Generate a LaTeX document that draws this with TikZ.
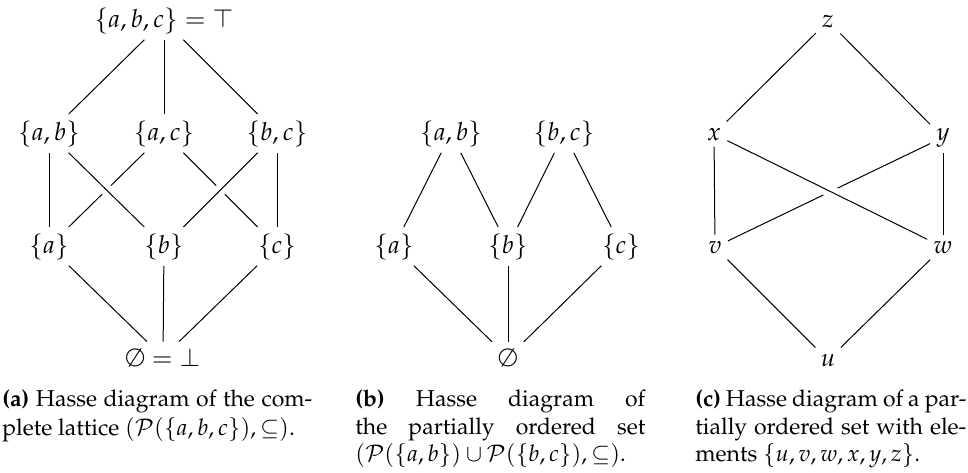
\documentclass[tikz,border=0pt]{standalone}
\usepackage[T1]{fontenc}
\usepackage{mathpazo}
\usetikzlibrary{calc}
\tikzset{
  el/.style={anchor=base, inner sep=3pt, font=\fontsize{12.5}{15}\selectfont},
  edge/.style={line width=0.5pt},
  over/.style={line width=0.5pt, preaction={draw=white, line width=6pt}},
  capline/.style={anchor=base west, inner sep=0pt, font=\fontsize{11.5}{13.5}\selectfont},
}
\begin{document}
\begin{tikzpicture}[x=0.5pt, y=-0.5pt]
\useasboundingbox (0,0) rectangle (968,472);
% (a)
\node[el] (atop) at (164,27) {$\{a,b,c\} = \top$};
\node[el] (aab) at (49,140) {$\{a,b\}$};
\node[el] (aac) at (164,140) {$\{a,c\}$};
\node[el] (abc) at (277,140) {$\{b,c\}$};
\node[el] (aa) at (49,253) {$\{a\}$};
\node[el] (ab) at (164,253) {$\{b\}$};
\node[el] (ac) at (277,253) {$\{c\}$};
\node[el] (abot) at (163,366) {$\emptyset = \bot$};
\draw[edge] (aac) -- (aa);
\draw[edge] (aac) -- (ac);
\draw[over] (aab) -- (ab);
\draw[over] (abc) -- (ab);
\draw[edge] (atop) -- (aab);
\draw[edge] (atop) -- (aac);
\draw[edge] (atop) -- (abc);
\draw[edge] (aab) -- (aa);
\draw[edge] (abc) -- (ac);
\draw[edge] (aa) -- (abot);
\draw[edge] (ab) -- (abot);
\draw[edge] (ac) -- (abot);
% (b)
\node[el] (bab) at (451,140) {$\{a,b\}$};
\node[el] (bbc) at (564,140) {$\{b,c\}$};
\node[el] (ba) at (394,253) {$\{a\}$};
\node[el] (bb) at (508,253) {$\{b\}$};
\node[el] (bc) at (621,253) {$\{c\}$};
\node[el] (bbot) at (508,366) {$\emptyset$};
\draw[edge] (bab) -- (ba);
\draw[edge] (bab) -- (bb);
\draw[edge] (bbc) -- (bb);
\draw[edge] (bbc) -- (bc);
\draw[edge] (ba) -- (bbot);
\draw[edge] (bb) -- (bbot);
\draw[edge] (bc) -- (bbot);
% (c)
\node[el] (cz) at (828,27) {$z$};
\node[el] (cx) at (714,140) {$x$};
\node[el] (cy) at (943,140) {$y$};
\node[el] (cv) at (715,253) {$v$};
\node[el] (cw) at (943,253) {$w$};
\node[el] (cu) at (828,366) {$u$};
\draw[edge] (cy) -- (cv);
\draw[over] (cx) -- (cw);
\draw[edge] (cz) -- (cx);
\draw[edge] (cz) -- (cy);
\draw[edge] (cx) -- (cv);
\draw[edge] (cy) -- (cw);
\draw[edge] (cv) -- (cu);
\draw[edge] (cw) -- (cu);
% captions
\node[capline] (capa1) at (2,406) {\makebox[155pt][s]{\textbf{(a)} Hasse diagram of the com-}};
\node[capline] (capa2) at (2,435) {plete lattice $(\mathcal{P}(\{a,b,c\}),\subseteq)$.};
\node[capline] (capb1) at (355,406) {\makebox[145pt][s]{\textbf{(b)} Hasse diagram of}};
\node[capline] (capb2) at (355,434) {\makebox[145pt][s]{the partially ordered set}};
\node[capline] (capb3) at (355,461) {$(\mathcal{P}(\{a,b\})\cup\mathcal{P}(\{b,c\}),\subseteq)$.};
\node[capline] (capc1) at (695,406) {\makebox[135.5pt][s]{\textbf{(c)} Hasse diagram of a par-}};
\node[capline] (capc2) at (695,434) {\makebox[135.5pt][s]{tially ordered set with ele-}};
\node[capline] (capc3) at (695,461) {ments $\{u,v,w,x,y,z\}$.};
\end{tikzpicture}
\end{document}
